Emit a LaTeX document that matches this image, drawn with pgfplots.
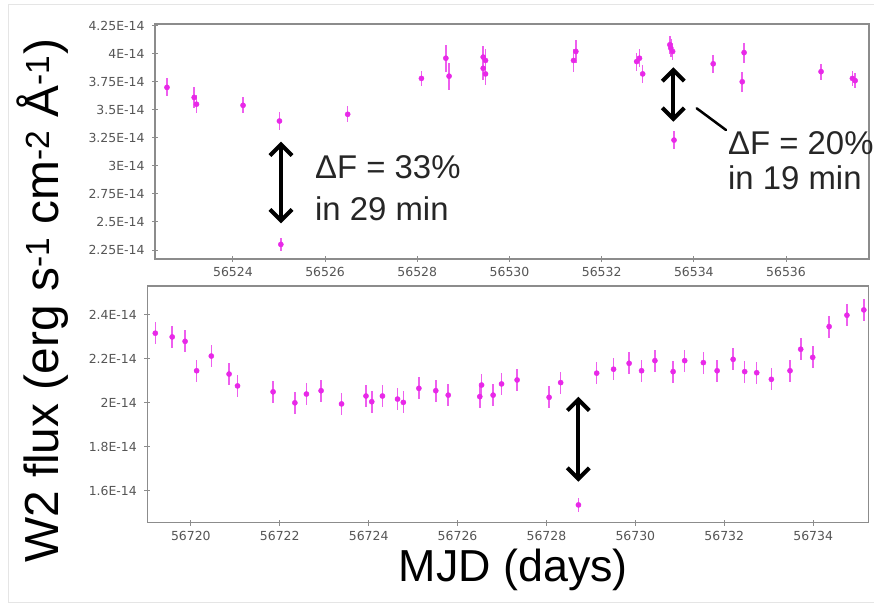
\documentclass[border=0pt]{standalone}
\usepackage{fontspec}
\setmainfont{Liberation Sans}
\newfontfamily\tickfont{DejaVu Sans}
\usepackage{pgfplots}
\usepackage{pgfplotstable}
\pgfplotsset{compat=1.18}
\usetikzlibrary{arrows.meta}
\definecolor{mag}{RGB}{232,40,232}
\definecolor{axgray}{RGB}{140,140,140}
\definecolor{ticktxt}{RGB}{85,85,85}

\pgfplotstableread{
x y e
56522.57 3.70 0.08
56523.16 3.61 0.09
56523.21 3.55 0.08
56524.22 3.54 0.07
56525.01 3.40 0.08
56525.04 2.30 0.06
56526.49 3.46 0.07
56528.09 3.78 0.07
56528.62 3.96 0.12
56528.69 3.80 0.12
56529.43 3.97 0.10
56529.48 3.94 0.10
56529.43 3.87 0.10
56529.48 3.82 0.10
56531.39 3.94 0.10
56531.44 4.02 0.10
56532.76 3.93 0.08
56532.82 3.96 0.08
56532.89 3.82 0.08
56533.48 4.08 0.08
56533.50 4.05 0.08
56533.54 4.02 0.08
56533.57 3.23 0.08
56534.42 3.91 0.08
56535.09 4.01 0.09
56535.05 3.75 0.09
56536.76 3.84 0.07
56537.44 3.78 0.07
56537.50 3.76 0.07
}\toptable

\pgfplotstableread{
x y e
56719.20 2.317 0.05
56719.58 2.300 0.05
56719.87 2.280 0.05
56720.13 2.146 0.05
56720.46 2.213 0.05
56720.86 2.131 0.05
56721.05 2.077 0.05
56721.85 2.050 0.05
56722.34 2.000 0.05
56722.60 2.040 0.05
56722.93 2.055 0.05
56723.39 1.995 0.05
56723.94 2.031 0.05
56724.07 2.005 0.05
56724.31 2.031 0.05
56724.65 2.017 0.05
56724.78 2.002 0.05
56725.13 2.066 0.05
56725.51 2.055 0.05
56725.79 2.035 0.05
56726.50 2.028 0.05
56726.54 2.081 0.05
56726.80 2.035 0.05
56726.99 2.086 0.05
56727.34 2.104 0.05
56728.06 2.025 0.05
56728.32 2.092 0.05
56728.72 1.535 0.03
56729.13 2.135 0.05
56729.51 2.153 0.05
56729.86 2.180 0.05
56730.14 2.146 0.05
56730.44 2.192 0.05
56730.85 2.142 0.05
56731.11 2.192 0.05
56731.53 2.183 0.05
56731.84 2.146 0.05
56732.20 2.198 0.05
56732.46 2.142 0.05
56732.73 2.137 0.05
56733.06 2.107 0.05
56733.48 2.146 0.05
56733.72 2.244 0.05
56733.99 2.207 0.05
56734.36 2.347 0.05
56734.76 2.399 0.05
56735.14 2.423 0.05
}\bottable

\begin{document}
\begin{tikzpicture}
\useasboundingbox (0,0) rectangle (874bp,604bp);
\begin{scope}[x=1bp,y=1bp]
\draw[black!10, line width=1bp] (8,2) rectangle (884,599);
\end{scope}
\pgfplotsset{
  lc/.style={
    scale only axis,
    anchor=south west,
    axis line style={axgray, line width=1.5bp},
    tick style={axgray, line width=1bp},
    tick align=center,
    major tick length=6bp,
    ticklabel style={font=\tickfont\fontsize{12.5}{14}\selectfont, text=ticktxt},
    xticklabel style={yshift=-2bp},
    yticklabel style={xshift=-4bp},
    clip=false,
    xtick pos=bottom, ytick pos=left,
  },
  pts/.style={
    only marks, mark=*, mark size=2.6bp, color=mag,
    mark options={draw=mag, fill=mag},
    error bars/.cd, y dir=both, y explicit,
    error bar style={mag!75, line width=1.6bp},
    error mark=none,
  }
}
% x data are shifted by 56500 (top) and 56700 (bottom); tick labels give full MJD
\begin{axis}[lc, at={(155bp,345bp)}, width=714bp, height=235bp,
  xmin=22.31, xmax=37.80, ymin=2.170, ymax=4.265,
  xtick={24,26,28,30,32,34,36},
  xticklabels={56524,56526,56528,56530,56532,56534,56536},
  ytick={2.25,2.5,2.75,3,3.25,3.5,3.75,4,4.25},
  yticklabels={2.25E-14,2.5E-14,2.75E-14,3E-14,3.25E-14,3.5E-14,3.75E-14,4E-14,4.25E-14}]
\addplot[pts] table[x expr=\thisrow{x}-56500, y=y, y error=e] {\toptable};
\end{axis}
\begin{axis}[lc, at={(147.3bp,81.3bp)}, width=721.4bp, height=236.7bp,
  xmin=19.02, xmax=35.25, ymin=1.454, ymax=2.532,
  xtick={20,22,24,26,28,30,32,34},
  xticklabels={56720,56722,56724,56726,56728,56730,56732,56734},
  ytick={1.6,1.8,2,2.2,2.4},
  yticklabels={1.6E-14,1.8E-14,2E-14,2.2E-14,2.4E-14}]
\addplot[pts] table[x expr=\thisrow{x}-56700, y=y, y error=e] {\bottable};
\end{axis}
\begin{scope}[x=1bp,y=1bp]
\tikzset{dbl/.style={line width=4bp, {Straight Barb[length=11bp,width=22bp]}-{Straight Barb[length=11bp,width=22bp]}}}
\draw[dbl] (281,462.3) -- (281,380.7);
\draw[dbl] (673.3,536.7) -- (673.3,482.3);
\draw[line width=2.5bp, line cap=round] (696.7,495.7) -- (726,474);
\draw[dbl] (578.3,207.3) -- (578.3,122.3);
\node[anchor=base west, inner sep=0pt, font=\fontsize{33}{36}\selectfont, text=black!85] at (315,425.7) {ΔF = 33\%};
\node[anchor=base west, inner sep=0pt, font=\fontsize{33}{36}\selectfont, text=black!85] at (315,383.3) {in 29 min};
\node[anchor=base west, inner sep=0pt, font=\fontsize{33}{36}\selectfont, text=black!85] at (728,449) {ΔF = 20\%};
\node[anchor=base west, inner sep=0pt, font=\fontsize{33}{36}\selectfont, text=black!85] at (728,414.7) {in 19 min};
\node[anchor=base, inner sep=0pt, font=\fontsize{45}{48}\selectfont] at (513.3,22.3) {MJD (days)};
\node[anchor=base, inner sep=0pt, rotate=90, font=\fontsize{48}{52}\selectfont] at (58,303) {W2 flux (erg s\textsuperscript{-1} cm\textsuperscript{-2} Å\textsuperscript{-1})};
\end{scope}
\end{tikzpicture}
\end{document}
